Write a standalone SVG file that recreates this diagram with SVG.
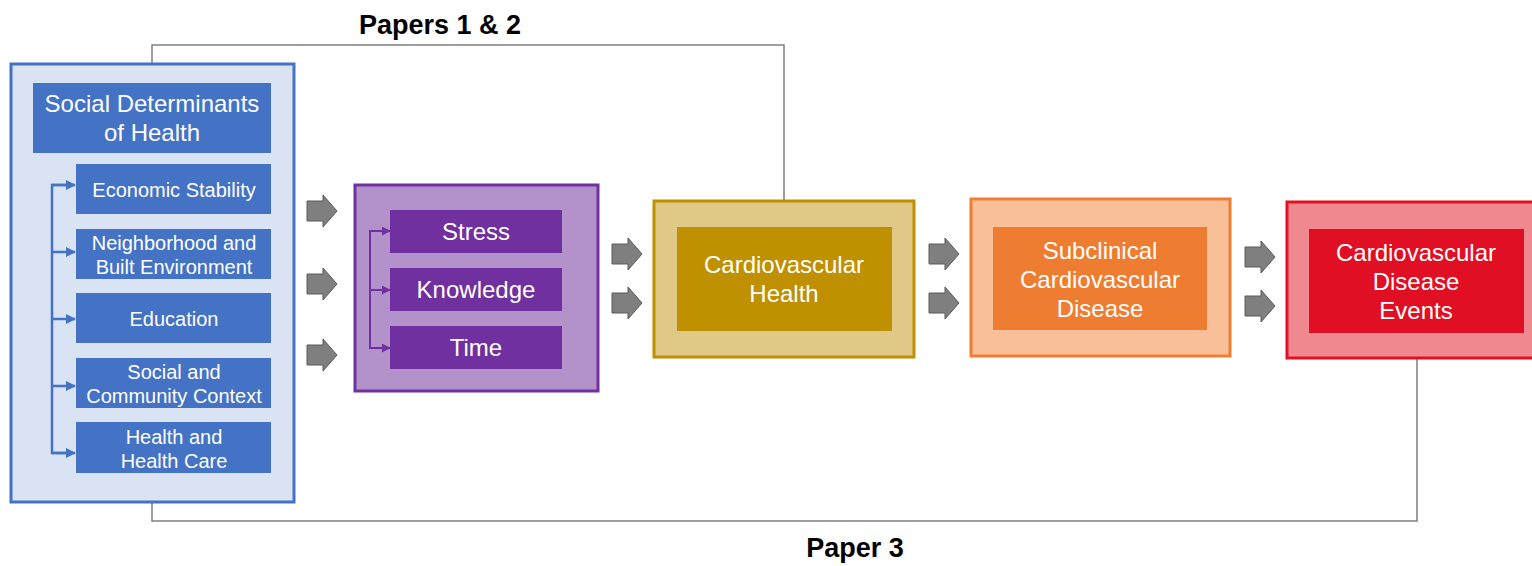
<svg xmlns="http://www.w3.org/2000/svg" width="1532" height="566" viewBox="0 0 1532 566">
<style>
.t{font-family:"Liberation Sans",Arial,sans-serif;fill:#fff;text-anchor:middle}
.t24{font-size:24px}
.t20{font-size:20px}
.lbl{font-family:"Liberation Sans",Arial,sans-serif;font-weight:bold;font-size:27px;fill:#000;text-anchor:middle}
.conn{fill:none;stroke:#7f7f7f;stroke-width:1.5}
.blk{fill:#7f7f7f;stroke:#5a5a5a;stroke-width:1}
</style>
<defs>
<path id="ba" d="M0,-10 H16 V-16 L30,0 L16,16 V10 H0 Z"/>
<marker id="mb" viewBox="0 0 10 10" refX="9" refY="5" markerWidth="10" markerHeight="10" markerUnits="userSpaceOnUse" orient="auto"><path d="M0,0 L10,5 L0,10 Z" fill="#4472c4"/></marker>
<marker id="mp" viewBox="0 0 10 10" refX="9" refY="5" markerWidth="9" markerHeight="9" markerUnits="userSpaceOnUse" orient="auto"><path d="M0,0 L10,5 L0,10 Z" fill="#7030a0"/></marker>
</defs>
<g id="connectors">
<polyline class="conn" points="152,63 152,45 784,45 784,200"/>
<polyline class="conn" points="152,503 152,521 1417,521 1417,359"/>
<use href="#ba" class="blk" x="307" y="211"/>
<use href="#ba" class="blk" x="307" y="284"/>
<use href="#ba" class="blk" x="307" y="355"/>
<use href="#ba" class="blk" x="612" y="254"/>
<use href="#ba" class="blk" x="612" y="303"/>
<use href="#ba" class="blk" x="929" y="254"/>
<use href="#ba" class="blk" x="929" y="303"/>
<use href="#ba" class="blk" x="1245" y="257"/>
<use href="#ba" class="blk" x="1245" y="306"/>
</g>
<g id="label-papers12"><text class="lbl" x="440" y="34">Papers 1 &amp; 2</text></g>
<g id="label-paper3"><text class="lbl" x="855" y="557">Paper 3</text></g>
<g id="sdoh">
<rect x="11" y="64" width="283" height="438" fill="#dae3f3" stroke="#4472c4" stroke-width="3"/>
<rect x="33" y="83" width="238" height="70" fill="#4472c4"/>
<text class="t t24" x="152" y="112">Social Determinants</text>
<text class="t t24" x="152" y="141">of Health</text>
<polyline points="66,185 52,185 52,453 66,453" fill="none" stroke="#4472c4" stroke-width="2.5"/>
<g stroke="#4472c4" stroke-width="2.5">
<line x1="52" y1="185" x2="75" y2="185" marker-end="url(#mb)"/>
<line x1="52" y1="252" x2="75" y2="252" marker-end="url(#mb)"/>
<line x1="52" y1="319" x2="75" y2="319" marker-end="url(#mb)"/>
<line x1="52" y1="386" x2="75" y2="386" marker-end="url(#mb)"/>
<line x1="52" y1="453" x2="75" y2="453" marker-end="url(#mb)"/>
</g>
<g id="economic"><rect x="76" y="164" width="195" height="50" fill="#4472c4"/><text class="t t20" x="174" y="197">Economic Stability</text></g>
<g id="neighborhood"><rect x="76" y="229" width="195" height="50" fill="#4472c4"/><text class="t t20" x="174" y="250">Neighborhood and</text><text class="t t20" x="174" y="274">Built Environment</text></g>
<g id="education"><rect x="76" y="293" width="195" height="50" fill="#4472c4"/><text class="t t20" x="174" y="326">Education</text></g>
<g id="social"><rect x="76" y="358" width="195" height="50" fill="#4472c4"/><text class="t t20" x="174" y="379">Social and</text><text class="t t20" x="174" y="403">Community Context</text></g>
<g id="healthcare"><rect x="76" y="422" width="195" height="51" fill="#4472c4"/><text class="t t20" x="174" y="444">Health and</text><text class="t t20" x="174" y="468">Health Care</text></g>
</g>
<g id="mediators">
<rect x="355" y="185" width="243" height="206" fill="#b392cb" stroke="#7030a0" stroke-width="3"/>
<polyline points="382,231 370,231 370,348 382,348" fill="none" stroke="#7030a0" stroke-width="2"/>
<g stroke="#7030a0" stroke-width="2">
<line x1="370" y1="231" x2="390" y2="231" marker-end="url(#mp)"/>
<line x1="370" y1="290" x2="390" y2="290" marker-end="url(#mp)"/>
<line x1="370" y1="348" x2="390" y2="348" marker-end="url(#mp)"/>
</g>
<g id="stress"><rect x="390" y="210" width="172" height="43" fill="#7030a0"/><text class="t t24" x="476" y="240">Stress</text></g>
<g id="knowledge"><rect x="390" y="268" width="172" height="43" fill="#7030a0"/><text class="t t24" x="476" y="298">Knowledge</text></g>
<g id="time"><rect x="390" y="326" width="172" height="43" fill="#7030a0"/><text class="t t24" x="476" y="356">Time</text></g>
</g>
<g id="cvhealth">
<rect x="654" y="201" width="260" height="156" fill="#e0c987" stroke="#bf9000" stroke-width="3"/>
<rect x="677" y="227" width="215" height="104" fill="#bf9000"/>
<text class="t t24" x="784" y="273">Cardiovascular</text>
<text class="t t24" x="784" y="302">Health</text>
</g>
<g id="subclinical">
<rect x="971" y="199" width="259" height="157" fill="#f8bf98" stroke="#ef7d31" stroke-width="3"/>
<rect x="993" y="227" width="214" height="103" fill="#ef7d31"/>
<text class="t t24" x="1100" y="259">Subclinical</text>
<text class="t t24" x="1100" y="288">Cardiovascular</text>
<text class="t t24" x="1100" y="317">Disease</text>
</g>
<g id="cvdevents">
<rect x="1287" y="202" width="260" height="156" fill="#f08890" stroke="#e30f24" stroke-width="3"/>
<rect x="1309" y="229" width="215" height="104" fill="#e00f24"/>
<text class="t t24" x="1416" y="261">Cardiovascular</text>
<text class="t t24" x="1416" y="290">Disease</text>
<text class="t t24" x="1416" y="319">Events</text>
</g>
</svg>
